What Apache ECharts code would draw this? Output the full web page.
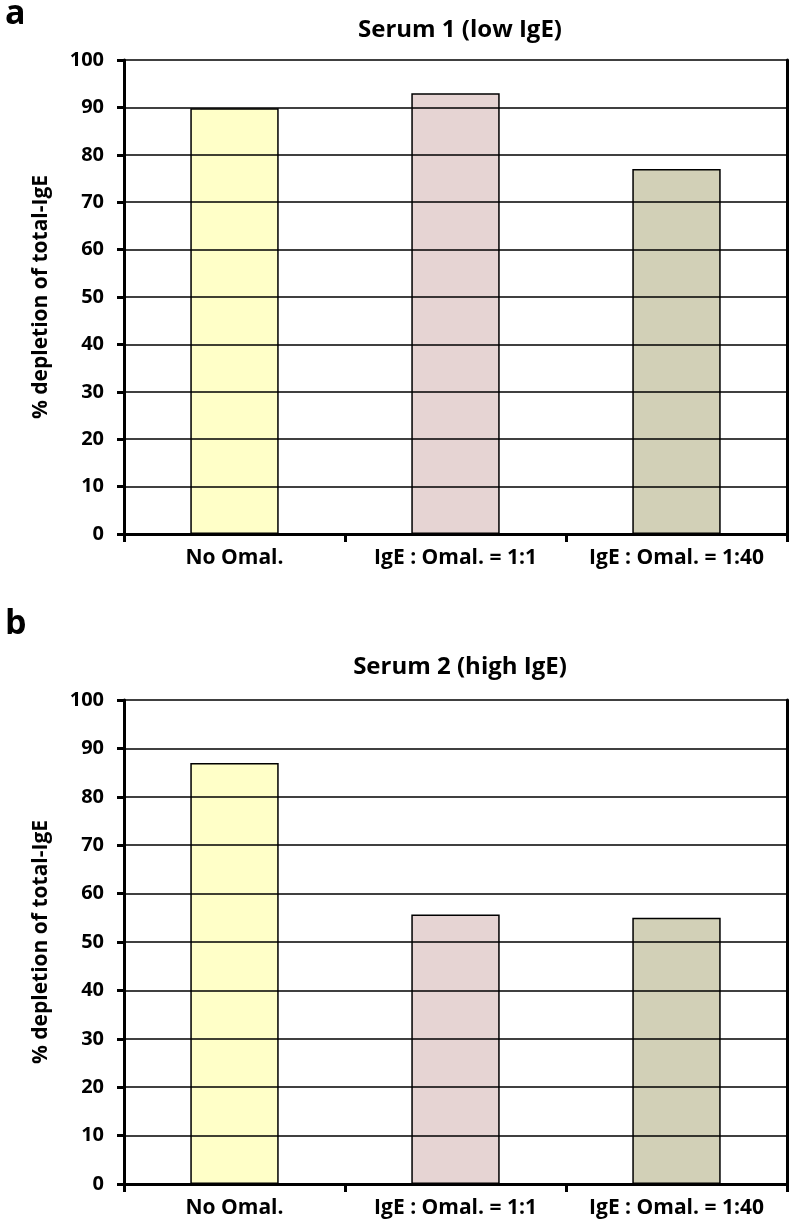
<!DOCTYPE html>
<html>
<head>
<meta charset="utf-8">
<script src="https://cdn.jsdelivr.net/npm/echarts@6/dist/echarts.min.js"></script>
<style>
html,body{margin:0;padding:0;background:#fff;}
#chart{width:792px;height:1225px;}
</style>
</head>
<body>
<div id="chart"></div>
<script>
const categories = ['No Omal.', 'IgE : Omal. = 1:1', 'IgE : Omal. = 1:40'];
const serum1Values = [89.8, 93, 77];
const serum2Values = [87, 55.7, 55];
const barColors = ['#FFFFC8', '#E6D4D3', '#D2D0B7'];
const yTicks = [0, 10, 20, 30, 40, 50, 60, 70, 80, 90, 100];
const panelTitles = ['Serum 1 (low IgE)', 'Serum 2 (high IgE)'];
const panelLetters = ['a', 'b'];
const yAxisName = '% depletion of total-IgE';

const FONT = 'Open Sans';
const chart = echarts.init(document.getElementById('chart'), null, {renderer: 'canvas'});

const grids = [
  {left: 124, right: 5, top: 60, height: 474},
  {left: 124, right: 5, top: 700, height: 484}
];

function xAxisFor(i) {
  return {
    type: 'category', gridIndex: i, data: categories,
    axisLine: {show: true, lineStyle: {color: '#000', width: 3}},
    axisTick: {show: true, length: 8, lineStyle: {color: '#000', width: 3}, alignWithLabel: false},
    axisLabel: {color: '#000', fontFamily: FONT, fontWeight: 'bold', fontSize: 21, margin: 14,
                interval: 0, hideOverlap: false},
    z: 10
  };
}
function yAxisFor(i) {
  return {
    type: 'value', gridIndex: i, min: yTicks[0], max: yTicks[yTicks.length - 1], interval: yTicks[1] - yTicks[0],
    name: yAxisName, nameLocation: 'middle', nameGap: 72, nameRotate: 90,
    nameTextStyle: {color: '#000', fontFamily: FONT, fontWeight: 'bold', fontSize: 21},
    axisLine: {show: true, lineStyle: {color: '#000', width: 3}},
    axisTick: {show: true, length: 7, lineStyle: {color: '#000', width: 3}},
    axisLabel: {color: '#000', fontFamily: FONT, fontWeight: 'bold', fontSize: 20, margin: 20},
    splitLine: {show: true, lineStyle: {color: '#000', width: 1.5}},
    z: 10
  };
}
function rightBorder(i) {
  return {
    type: 'value', gridIndex: i, position: 'right', min: 0, max: 100, interval: 10,
    axisLine: {show: true, lineStyle: {color: '#000', width: 3}},
    axisTick: {show: false}, axisLabel: {show: false}, splitLine: {show: false}
  };
}
function seriesFor(i, values) {
  return {
    type: 'bar', xAxisIndex: i, yAxisIndex: i, barWidth: '40%',
    data: values.map((v, k) => ({value: v, itemStyle: {color: barColors[k]}})),
    itemStyle: {borderColor: '#000', borderWidth: 1.5},
    z: 5
  };
}

const option = {
  backgroundColor: '#fff',
  animation: false,
  title: [
    {text: panelTitles[0], left: 455, top: 13, textAlign: 'center',
     textStyle: {fontFamily: FONT, fontWeight: 'bold', fontSize: 24, color: '#000'}},
    {text: panelTitles[1], left: 455, top: 650, textAlign: 'center',
     textStyle: {fontFamily: FONT, fontWeight: 'bold', fontSize: 24, color: '#000'}},
    {text: panelLetters[0], left: 0, top: -8,
     textStyle: {fontFamily: FONT, fontWeight: 'bold', fontSize: 34, color: '#000'}},
    {text: panelLetters[1], left: 0, top: 602,
     textStyle: {fontFamily: FONT, fontWeight: 'bold', fontSize: 34, color: '#000'}}
  ],
  grid: grids,
  xAxis: [xAxisFor(0), xAxisFor(1)],
  yAxis: [yAxisFor(0), yAxisFor(1), rightBorder(0), rightBorder(1)],
  series: [seriesFor(0, serum1Values), seriesFor(1, serum2Values)]
};
chart.setOption(option);
</script>
</body>
</html>
